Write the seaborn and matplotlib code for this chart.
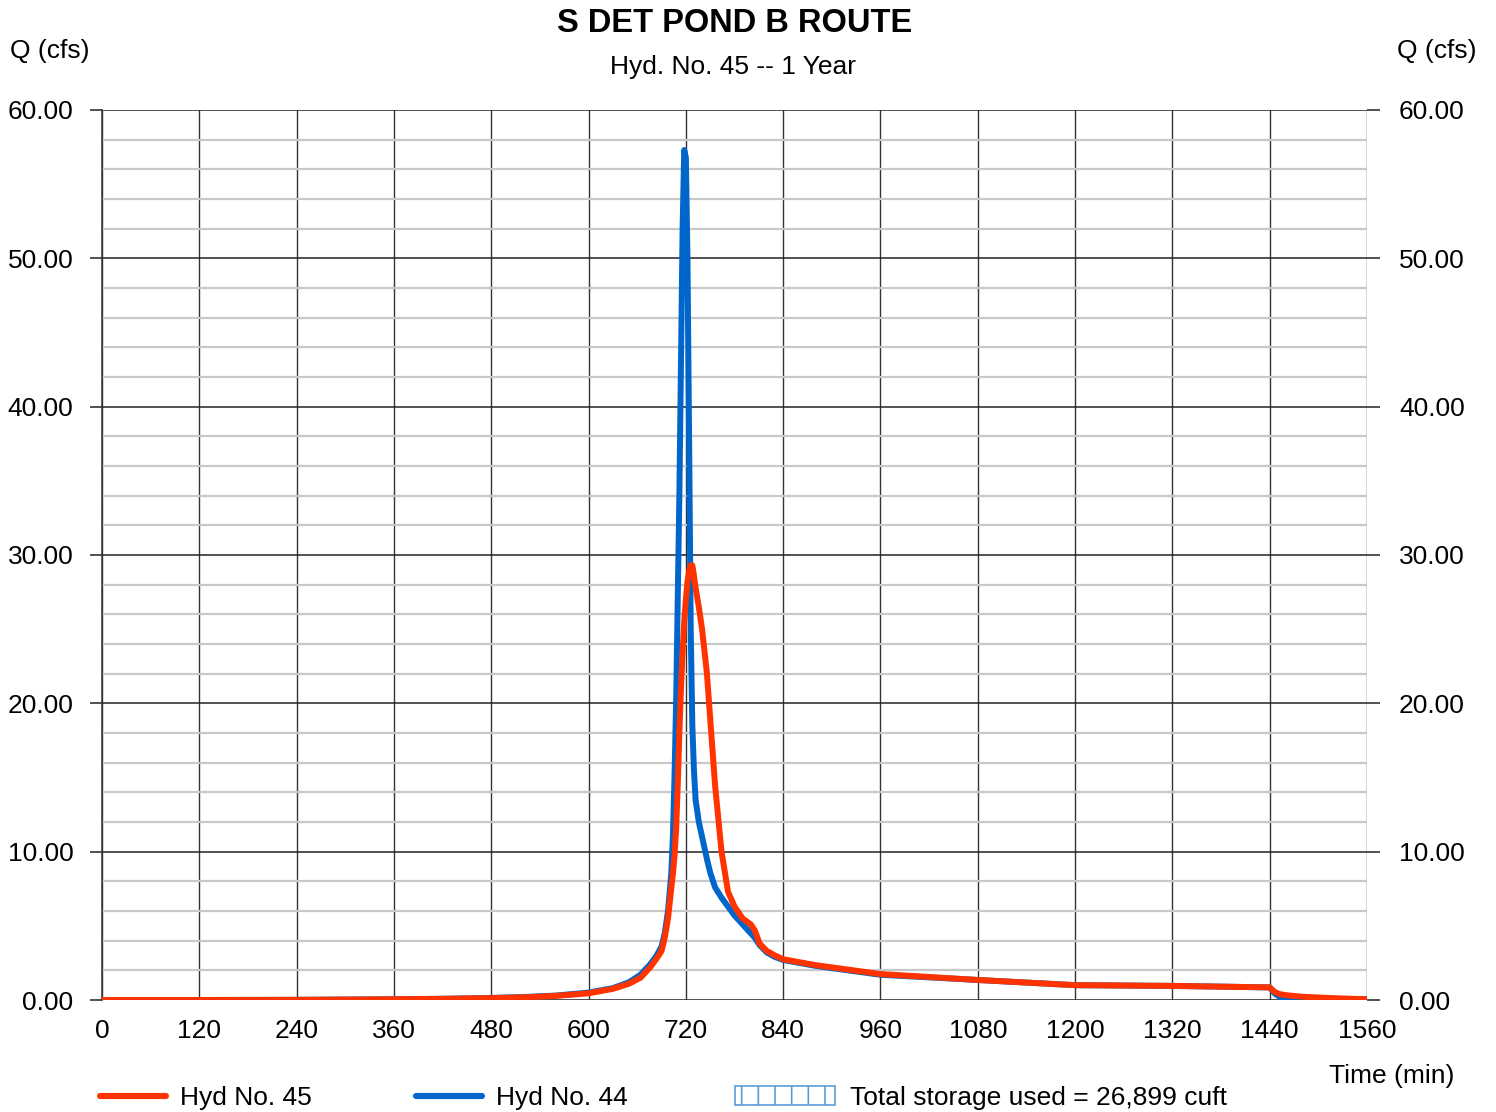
import numpy as np
import pandas as pd
import seaborn as sns
import matplotlib.pyplot as plt
from matplotlib.lines import Line2D
from matplotlib.patches import Patch
from matplotlib.ticker import MultipleLocator, FormatStrFormatter

sns.set_theme(style="white")
plt.rcParams['font.family'] = ['Liberation Sans', 'DejaVu Sans']
plt.rcParams['hatch.linewidth'] = 1.2
plt.rcParams['text.color'] = 'black'

# Hydrograph ordinates (time in minutes, flow in cfs)
time_min = [0, 120, 240, 360, 420, 480, 520, 560, 600, 630, 650, 664, 676, 684,
            690, 694, 698, 702, 704, 706, 708, 710, 712, 714, 716, 718, 720, 722,
            724, 726, 728, 730, 732, 736, 740, 746, 750, 756, 764, 772, 780, 790,
            800, 805, 811, 820, 830, 840, 880, 960, 1080, 1200, 1320, 1440, 1446,
            1452, 1461, 1480, 1520, 1560]

hyd44_inflow = [0.0, 0.0, 0.01, 0.05, 0.08, 0.14, 0.2, 0.3, 0.5, 0.8, 1.2, 1.7, 2.4, 3.0,
                3.6, 4.5, 6.0, 8.5, 11.0, 15.0, 20.0, 27.0, 34.0, 43.0, 52.0, 57.3, 56.8, 50.0,
                38.0, 25.0, 18.5, 15.5, 13.5, 12.0, 11.0, 9.5, 8.6, 7.6, 6.9, 6.3, 5.7, 5.1,
                4.5, 4.2, 3.7, 3.2, 2.9, 2.7, 2.3, 1.7, 1.35, 1.0, 0.95, 0.85, 0.45,
                0.22, 0.16, 0.12, 0.08, 0.05]

hyd45_outflow = [0.0, 0.0, 0.01, 0.05, 0.08, 0.13, 0.18, 0.28, 0.45, 0.75, 1.1, 1.5, 2.2, 2.8,
                 3.3, 4.2, 5.5, 7.5, 8.5, 9.7, 11.5, 14.5, 18.0, 21.0, 23.5, 25.5, 27.0, 28.2,
                 28.9, 29.3, 29.3, 28.6, 27.8, 26.5, 25.0, 22.0, 19.0, 14.5, 10.0, 7.3, 6.3, 5.5,
                 5.1, 4.7, 3.8, 3.3, 3.0, 2.75, 2.35, 1.75, 1.35, 1.0, 0.95, 0.85, 0.55,
                 0.4, 0.32, 0.22, 0.12, 0.05]

x_ticks = [0, 120, 240, 360, 480, 600, 720, 840, 960, 1080, 1200, 1320, 1440, 1560]

df = pd.DataFrame({"time": time_min, "in44": hyd44_inflow, "out45": hyd45_outflow})

RED = "#ff3300"
BLUE = "#0066cc"
HATCH = "#5b9bd5"
FS = 19
LW = 4.3

fig = plt.figure(figsize=(14.96, 11.12), dpi=100)
ax = fig.add_axes([102 / 1496, 1 - 1000 / 1112, 1265 / 1496, 890 / 1112])

# Storage volume: area between inflow and outflow where inflow exceeds outflow
t = np.array(time_min, dtype=float)
ax.fill_between(t, df["out45"], df["in44"], where=df["in44"] >= df["out45"],
                facecolor="none", edgecolor=HATCH, hatch="|", linewidth=0,
                interpolate=True, zorder=2)

sns.lineplot(data=df, x="time", y="in44", ax=ax, color=BLUE, linewidth=LW,
             zorder=3, solid_joinstyle="round", solid_capstyle="round")
sns.lineplot(data=df, x="time", y="out45", ax=ax, color=RED, linewidth=LW,
             zorder=4, solid_joinstyle="round", solid_capstyle="round")

ax.set_xlim(0, 1560)
ax.set_ylim(0, 60)
ax.set_xlabel("")
ax.set_ylabel("")
ax.set_xticks(x_ticks)
ax.yaxis.set_major_locator(MultipleLocator(10))
ax.yaxis.set_minor_locator(MultipleLocator(2))
ax.yaxis.set_major_formatter(FormatStrFormatter("%.2f"))

ax.grid(which="minor", axis="y", color="#c8c8c8", linewidth=1.6, zorder=0)
ax.grid(which="major", axis="y", color="#222222", linewidth=1.1, zorder=1)
ax.grid(which="major", axis="x", color="#333333", linewidth=1.0, zorder=1)
ax.set_axisbelow(True)

for side in ["top", "right", "bottom"]:
    ax.spines[side].set_visible(False)
ax.spines["left"].set_color("#333333")
ax.spines["left"].set_linewidth(1.1)

ax.tick_params(axis="y", which="major", left=True, length=8.5, width=1.1,
               color="#222222", labelsize=FS, pad=12, labelcolor="black")
ax.tick_params(axis="y", which="minor", left=False, length=0, width=0)
ax.tick_params(axis="x", which="major", bottom=False, length=0, labelsize=FS,
               pad=14, labelcolor="black")

ax2 = ax.twinx()
ax2.set_ylim(0, 60)
ax2.yaxis.set_major_locator(MultipleLocator(10))
ax2.yaxis.set_major_formatter(FormatStrFormatter("%.2f"))
for side in ["top", "left", "bottom", "right"]:
    ax2.spines[side].set_visible(False)
ax2.tick_params(axis="y", right=True, length=9, width=1.1, color="#222222",
                labelsize=FS, pad=14, labelcolor="black")
ax2.grid(False)

fig.text(735 / 1496, 1 - 24 / 1112, "S DET POND B ROUTE", ha="center", va="center",
         fontsize=23.5, fontweight="bold", color="black")
fig.text(733 / 1496, 1 - 67 / 1112, "Hyd. No. 45 -- 1 Year", ha="center", va="center",
         fontsize=FS, color="black")
fig.text(50 / 1496, 1 - 51 / 1112, "Q (cfs)", ha="center", va="center", fontsize=FS,
         color="black")
fig.text(1437 / 1496, 1 - 51 / 1112, "Q (cfs)", ha="center", va="center", fontsize=FS,
         color="black")
fig.text(1392 / 1496, 1 - 1076 / 1112, "Time (min)", ha="center", va="center",
         fontsize=FS, color="black")

leg_kw = dict(frameon=False, fontsize=FS, loc="center left", handletextpad=0.55,
              borderaxespad=0, borderpad=0, labelcolor="black")
fig.legend(handles=[Line2D([], [], color=RED, linewidth=4.4, solid_capstyle="round")],
           labels=["Hyd No. 45"], bbox_to_anchor=(100 / 1496, 1 - 1098 / 1112),
           handlelength=2.5, **leg_kw)
fig.legend(handles=[Line2D([], [], color=BLUE, linewidth=4.4, solid_capstyle="round")],
           labels=["Hyd No. 44"], bbox_to_anchor=(416 / 1496, 1 - 1098 / 1112),
           handlelength=2.5, **leg_kw)
fig.legend(handles=[Patch(facecolor="none", edgecolor=HATCH, hatch="|", linewidth=1.2)],
           labels=["Total storage used = 26,899 cuft"],
           bbox_to_anchor=(735 / 1496, 1 - 1098 / 1112), handlelength=3.8,
           handleheight=0.75, **leg_kw)

fig.savefig("out.png", dpi=100)
